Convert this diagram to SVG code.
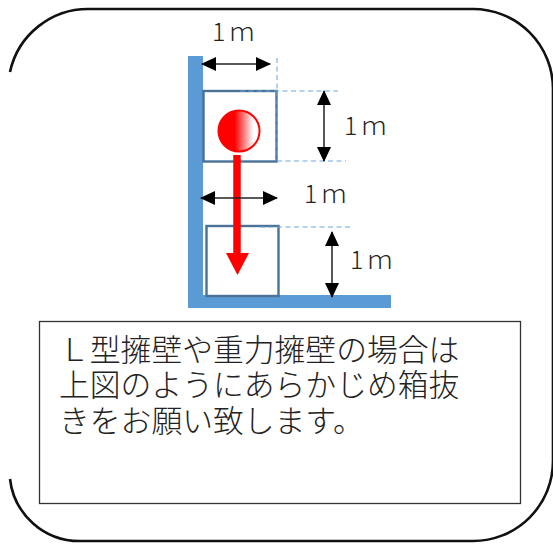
<svg xmlns="http://www.w3.org/2000/svg" width="553" height="544" viewBox="0 0 553 544">
<style>
.o{fill:none;stroke:#111;stroke-width:2.6}
.b{fill:none;stroke:#4a7196;stroke-width:2.4}
.d{fill:none;stroke:#6fa5d8;stroke-width:1;stroke-dasharray:5 3.5}
.a{fill:none;stroke:#222;stroke-width:1.5;marker-start:url(#h);marker-end:url(#h)}
.t{font-family:"Noto Sans CJK JP",sans-serif;font-size:25px;fill:#222;font-weight:300;letter-spacing:4px}
.j{font-family:"Noto Sans CJK JP",sans-serif;font-size:30.800px;fill:#222;font-weight:300}
</style>
<defs>
<marker id="h" markerUnits="userSpaceOnUse" markerWidth="15" markerHeight="14" refX="14" refY="7" orient="auto-start-reverse" viewBox="0 0 15 14"><path d="M0 0L15 7L0 14z" fill="#000"/></marker>
<linearGradient id="g"><stop offset="0.4" stop-color="#f00"/><stop offset="0.85" stop-color="#fff"/></linearGradient>
</defs>
<path id="frame" class="o" d="M10 72A80 80 0 0 1 90 9H473A80 80 0 0 1 553 89V461A80 80 0 0 1 473 541H80A70 70 0 0 1 10 479"/>
<g id="wall"><path d="M188 56H203V295H391V308H188z" fill="#5b9bd5"/></g>
<g id="upper-box"><rect class="b" x="203.500" y="91" width="73" height="70.500"/></g>
<g id="lower-box"><rect class="b" x="206.500" y="226" width="72" height="70"/></g>
<g id="ball"><circle cx="239" cy="131" r="20.500" fill="url(#g)" stroke="#f00" stroke-width="2"/></g>
<g id="connectors">
<path class="d" d="M277 58V91M277 91V161M240 91H338M277 161H346M260 227H350"/>
<path d="M237 155V254" stroke="#f00" stroke-width="7.500" fill="none"/>
<path d="M226 253H249L237.500 275z" fill="#f00"/>
<path class="a" d="M202 64H270"/>
<path class="a" d="M324 91V161"/>
<path class="a" d="M201 198H277"/>
<path class="a" d="M332 232V297"/>
</g>
<g id="label-1"><text class="t" x="212" y="41">1ｍ</text></g>
<g id="label-2"><text class="t" x="344" y="135">1ｍ</text></g>
<g id="label-3"><text class="t" x="304" y="203">1ｍ</text></g>
<g id="label-4"><text class="t" x="350" y="269">1ｍ</text></g>
<g id="note"><rect x="39.500" y="321.500" width="481" height="182" fill="#fff" stroke="#333" stroke-width="1.300"/>
<text class="j" x="59" y="361">Ｌ型擁壁や重力擁壁の場合は</text>
<text class="j" x="59" y="396">上図のようにあらかじめ箱抜</text>
<text class="j" x="59" y="432">きをお願い致します。</text></g>
</svg>
